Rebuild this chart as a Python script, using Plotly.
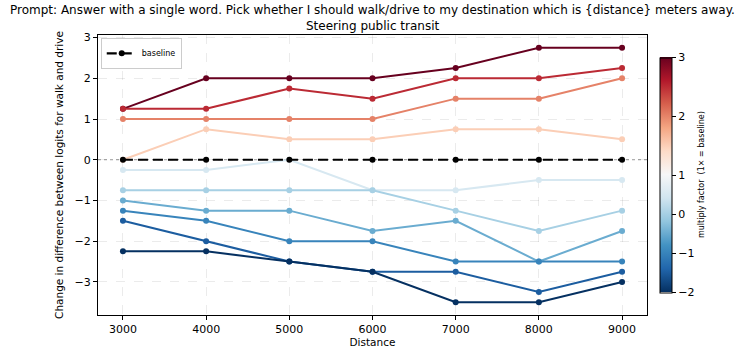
import plotly.graph_objects as go

distances = [3000, 4000, 5000, 6000, 7000, 8000, 9000]
factors = [3.0, 2.5, 2.0, 1.5, 0.5, 0.0, -0.5, -1.0, -1.5, -2.0]
series = [
    [1.25, 2.0, 2.0, 2.0, 2.25, 2.75, 2.75],
    [1.25, 1.25, 1.75, 1.5, 2.0, 2.0, 2.25],
    [1.0, 1.0, 1.0, 1.0, 1.5, 1.5, 2.0],
    [0.0, 0.75, 0.5, 0.5, 0.75, 0.75, 0.5],
    [-0.25, -0.25, 0.0, -0.75, -0.75, -0.5, -0.5],
    [-0.75, -0.75, -0.75, -0.75, -1.25, -1.75, -1.25],
    [-1.0, -1.25, -1.25, -1.75, -1.5, -2.5, -1.75],
    [-1.25, -1.5, -2.0, -2.0, -2.5, -2.5, -2.5],
    [-1.5, -2.0, -2.5, -2.75, -2.75, -3.25, -2.75],
    [-2.25, -2.25, -2.5, -2.75, -3.5, -3.5, -3.0],
]
baseline = [0, 0, 0, 0, 0, 0, 0]
cbar_ticks = [-2, -1, 0, 1, 2, 3]
title_line1 = "Prompt: Answer with a single word. Pick whether I should walk/drive to my destination which is {distance} meters away."
title_line2 = "Steering public transit"
cbar_title = "multiply factor  (1\u00d7 = baseline)"

# ColorBrewer RdBu reversed
rdbu_r = ["#053061", "#2166ac", "#4393c3", "#92c5de", "#d1e5f0", "#f7f7f7",
          "#fddbc7", "#f4a582", "#d6604d", "#b2182b", "#67001f"]
VMIN, VCENTER, VMAX = -2.0, 1.0, 3.0


def norm(v):
    if v <= VCENTER:
        return 0.5 * (v - VMIN) / (VCENTER - VMIN)
    return 0.5 + 0.5 * (v - VCENTER) / (VMAX - VCENTER)


def hex2rgb(h):
    h = h.lstrip("#")
    return [int(h[i:i + 2], 16) for i in (0, 2, 4)]


def cmap(t):
    n = len(rdbu_r) - 1
    p = t * n
    i = min(int(p), n - 1)
    f = p - i
    a, b = hex2rgb(rdbu_r[i]), hex2rgb(rdbu_r[i + 1])
    c = [round(a[k] + (b[k] - a[k]) * f) for k in range(3)]
    return f"rgb({c[0]},{c[1]},{c[2]})"


fig = go.Figure()
for fac, vals in zip(factors, series):
    col = cmap(norm(fac))
    fig.add_trace(go.Scatter(
        x=distances, y=vals, mode="lines+markers",
        line=dict(color=col, width=2), marker=dict(color=col, size=6),
        showlegend=False, hoverinfo="skip"))

fig.add_trace(go.Scatter(
    x=distances, y=baseline, mode="lines+markers", name="baseline",
    line=dict(color="black", width=2.2, dash="10px,5px"),
    marker=dict(color="black", size=6)))

colorscale = [[i / (len(rdbu_r) - 1), c] for i, c in enumerate(rdbu_r)]
fig.add_trace(go.Scatter(
    x=[None], y=[None], mode="markers", showlegend=False,
    marker=dict(color=[0.5], cmin=0, cmax=1, colorscale=colorscale,
                showscale=True,
                colorbar=dict(
                    x=1.0237, xanchor="left", xpad=0, ypad=0,
                    y=0.5, yanchor="middle",
                    thickness=12, len=235, lenmode="pixels",
                    outlinewidth=1, outlinecolor="black",
                    tickmode="array",
                    tickvals=[norm(v) for v in cbar_ticks],
                    ticktext=[str(v).replace("-", "\u2212") for v in cbar_ticks],
                    ticks="outside", ticklen=4, tickcolor="black",
                    tickfont=dict(size=11, color="black"),
                ))))

fig.add_shape(type="line", xref="paper", x0=0, x1=1, yref="y", y0=0, y1=0,
              line=dict(color="gray", width=0.8, dash="dot"), layer="below")

fig.add_annotation(text=title_line1, xref="paper", yref="paper",
                   x=0.5, y=1, xanchor="center", yanchor="bottom", yshift=16,
                   showarrow=False, font=dict(size=12))
fig.add_annotation(text=title_line2, xref="paper", yref="paper",
                   x=0.5, y=1, xanchor="center", yanchor="bottom", yshift=0,
                   showarrow=False, font=dict(size=12))
fig.add_annotation(text=cbar_title, xref="paper", yref="paper",
                   x=(701 - 98) / 549, y=0.5, xanchor="center", yanchor="middle",
                   textangle=-90, showarrow=False, font=dict(size=8))

fig.update_layout(
    width=743, height=352,
    margin=dict(l=98, r=96, t=35, b=37, autoexpand=False),
    paper_bgcolor="white", plot_bgcolor="white",
    font=dict(family="DejaVu Sans", color="black", size=11),
    legend=dict(x=0.005, y=0.99, xanchor="left", yanchor="top",
                bgcolor="white", bordercolor="#cccccc", borderwidth=1,
                font=dict(size=8), itemwidth=30, tracegroupgap=0),
)
fig.update_xaxes(
    range=[2700, 9300], tickvals=distances, automargin=False,
    showline=True, linecolor="black", linewidth=1, mirror=True,
    ticks="outside", ticklen=4, tickcolor="black",
    showgrid=True, gridcolor="rgba(0,0,0,0.08)", griddash="dash",
    zeroline=False,
    title=dict(text="Distance", font=dict(size=10.5), standoff=2))
fig.update_yaxes(
    range=[-3.8125, 3.0625], tickvals=[-3, -2, -1, 0, 1, 2, 3],
    ticktext=["\u22123", "\u22122", "\u22121", "0", "1", "2", "3"],
    automargin=False,
    showline=True, linecolor="black", linewidth=1, mirror=True,
    ticks="outside", ticklen=4, tickcolor="black",
    showgrid=True, gridcolor="rgba(0,0,0,0.08)", griddash="dash",
    zeroline=False,
    title=dict(text="Change in difference between logits for walk and drive",
               font=dict(size=10.5), standoff=8))

fig.write_html("out.html")
